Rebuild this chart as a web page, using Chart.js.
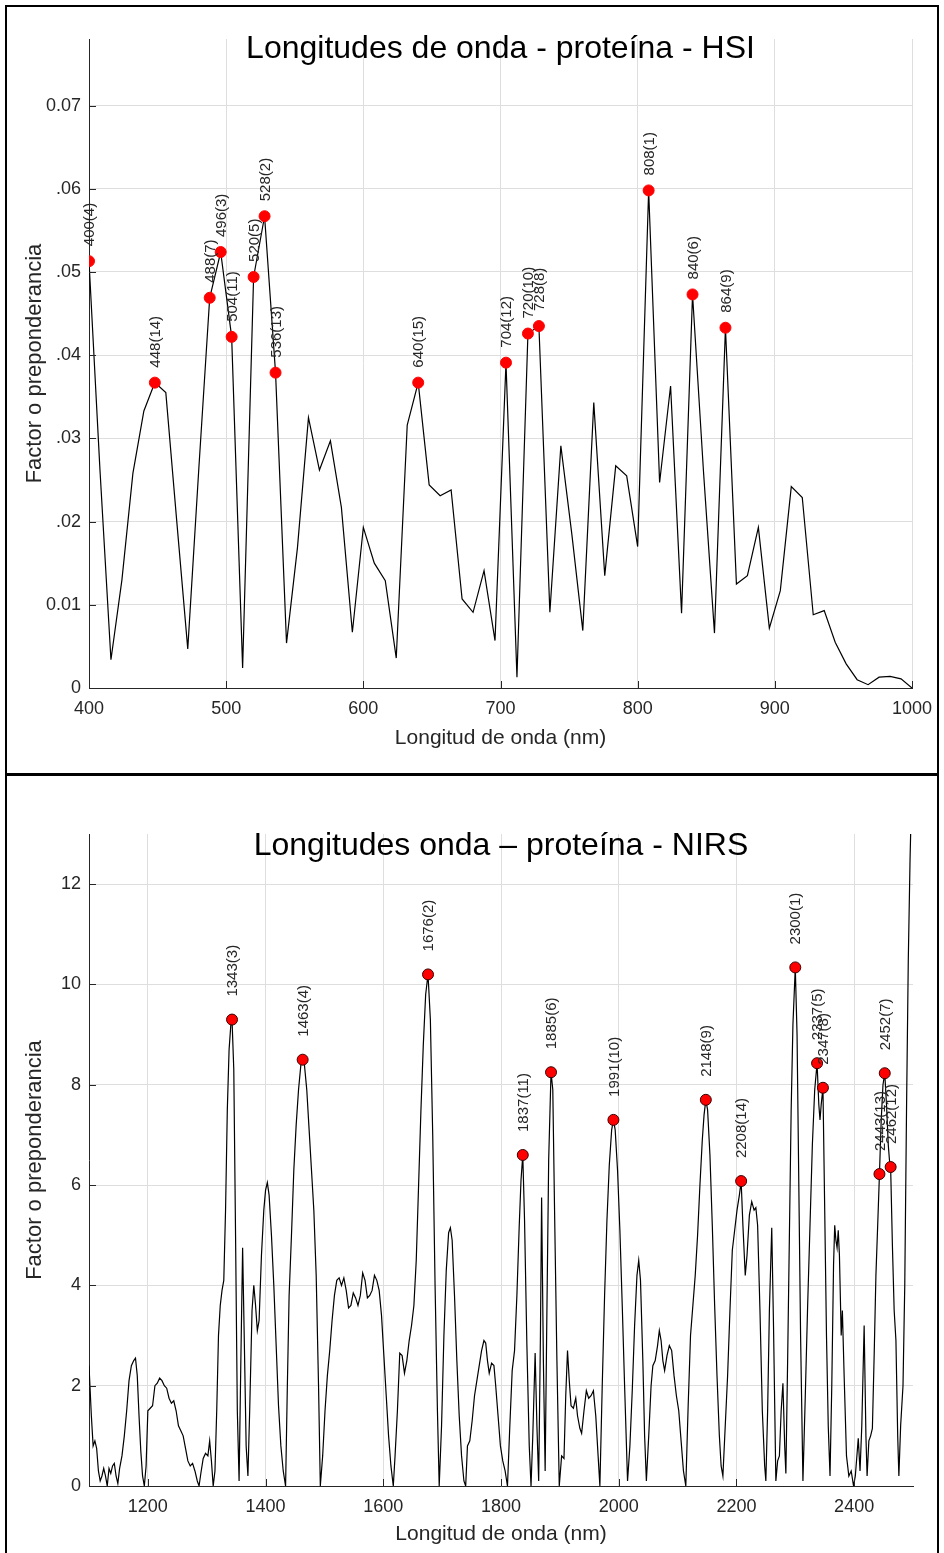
<!DOCTYPE html>
<html>
<head>
<meta charset="utf-8">
<script src="https://cdn.jsdelivr.net/npm/chart.js@4.4.1/dist/chart.umd.min.js"></script>
<style>
  body { margin: 0; background: #fff; }
  .panel { position: absolute; left: 5px; width: 934px; border: 2px solid #000; box-sizing: border-box; }
  #p1 { top: 5px; height: 771px; }
  #p2 { top: 773px; height: 800px; }
  canvas { position: absolute; }
  #hsiChart { left: 7px; top: 7px; }
  #nirsChart { left: 7px; top: 776px; }
</style>
</head>
<body>
<div class="panel" id="p1"></div>
<div class="panel" id="p2"></div>
<canvas id="hsiChart" width="930" height="767"></canvas>
<canvas id="nirsChart" width="930" height="777"></canvas>
<script>
// HSI spectrum (8 nm steps)
const hsiWl = [400, 408, 416, 424, 432, 440, 448, 456, 464, 472, 480, 488, 496, 504, 512, 520, 528, 536, 544, 552,
  560, 568, 576, 584, 592, 600, 608, 616, 624, 632, 640, 648, 656, 664, 672, 680, 688, 696, 704, 712,
  720, 728, 736, 744, 752, 760, 768, 776, 784, 792, 800, 808, 816, 824, 832, 840, 848, 856, 864, 872,
  880, 888, 896, 904, 912, 920, 928, 936, 944, 952, 960, 968, 976, 984, 992, 1000];
const hsiVal = [0.0513, 0.0262, 0.0034, 0.0130, 0.0258, 0.0333, 0.0367, 0.0355, 0.0200, 0.0047,
  0.0262, 0.0469, 0.0524, 0.0422, 0.0024, 0.0494, 0.0567, 0.0379, 0.0054, 0.0169,
  0.0325, 0.0262, 0.0297, 0.0217, 0.0067, 0.0193, 0.0150, 0.0129, 0.0036, 0.0316,
  0.0367, 0.0244, 0.0231, 0.0238, 0.0107, 0.0091, 0.0141, 0.0057, 0.0391, 0.0013,
  0.0426, 0.0435, 0.0091, 0.0291, 0.0185, 0.0069, 0.0343, 0.0135, 0.0267, 0.0255,
  0.0170, 0.0598, 0.0247, 0.0363, 0.0090, 0.0473, 0.0260, 0.0066, 0.0433, 0.0125,
  0.0135, 0.0193, 0.0072, 0.0117, 0.0242, 0.0229, 0.0088, 0.0093, 0.0055, 0.0029,
  0.0010, 0.0004, 0.0013, 0.0014, 0.0011, 0.0000];
const hsiPeakWl = [400, 448, 488, 496, 504, 520, 528, 536, 640, 704, 720, 728, 808, 840, 864];
const hsiPeakRank = [4, 14, 7, 3, 11, 5, 2, 13, 15, 12, 10, 8, 1, 6, 9];
const hsiXTicks = [400, 500, 600, 700, 800, 900, 1000];
const hsiXLabels = ['400', '500', '600', '700', '800', '900', '1000'];
const hsiYTicks = [0, 0.01, 0.02, 0.03, 0.04, 0.05, 0.06, 0.07];
const hsiYLabels = ['0', '0.01', '.02', '.03', '.04', '.05', '.06', '0.07'];

// NIRS spectrum
const nirsWl = [1100, 1104, 1107, 1110, 1113, 1116, 1119, 1122, 1125, 1128, 1131, 1134, 1137, 1140, 1143, 1146, 1149, 1152, 1156, 1160,
  1164, 1168, 1172, 1176, 1179, 1182, 1185, 1188, 1191, 1194, 1197, 1200, 1204, 1208, 1212, 1216, 1220, 1224, 1228, 1232,
  1236, 1240, 1244, 1248, 1252, 1256, 1260, 1264, 1268, 1272, 1276, 1280, 1284, 1287, 1290, 1294, 1298, 1302, 1305, 1308,
  1311, 1314, 1317, 1320, 1323, 1326, 1329, 1332, 1335, 1338, 1341, 1343, 1346, 1349, 1352, 1355, 1358, 1361, 1364, 1367,
  1370, 1373, 1377, 1380, 1383, 1386, 1389, 1393, 1397, 1400, 1403, 1406, 1410, 1414, 1418, 1422, 1426, 1430, 1434, 1437,
  1440, 1444, 1448, 1452, 1456, 1460, 1463, 1466, 1470, 1474, 1478, 1482, 1486, 1490, 1493, 1497, 1501, 1505, 1509, 1513,
  1517, 1521, 1525, 1529, 1533, 1537, 1541, 1545, 1549, 1553, 1557, 1561, 1565, 1569, 1573, 1577, 1581, 1585, 1589, 1593,
  1597, 1601, 1605, 1609, 1613, 1617, 1620, 1624, 1628, 1632, 1636, 1640, 1644, 1648, 1652, 1656, 1660, 1664, 1668, 1672,
  1676, 1680, 1684, 1688, 1692, 1695, 1699, 1703, 1707, 1711, 1714, 1717, 1721, 1725, 1729, 1733, 1737, 1740, 1743, 1747,
  1751, 1755, 1759, 1763, 1767, 1771, 1774, 1777, 1780, 1784, 1788, 1791, 1795, 1799, 1803, 1807, 1811, 1815, 1819, 1823,
  1827, 1831, 1834, 1837, 1840, 1844, 1848, 1851, 1854, 1858, 1861, 1864, 1867, 1869, 1872, 1875, 1878, 1881, 1885, 1888,
  1891, 1895, 1899, 1903, 1907, 1910, 1913, 1916, 1919, 1923, 1927, 1930, 1934, 1937, 1941, 1945, 1949, 1953, 1957, 1961,
  1965, 1968, 1972, 1976, 1980, 1984, 1988, 1991, 1994, 1998, 2002, 2006, 2010, 2015, 2019, 2023, 2027, 2031, 2034, 2037,
  2041, 2044, 2047, 2051, 2055, 2058, 2062, 2066, 2069, 2072, 2075, 2078, 2082, 2086, 2090, 2094, 2098, 2102, 2106, 2110,
  2114, 2118, 2122, 2126, 2130, 2134, 2138, 2142, 2145, 2148, 2151, 2155, 2159, 2163, 2167, 2171, 2174, 2177, 2181, 2185,
  2189, 2193, 2197, 2201, 2205, 2208, 2211, 2215, 2218, 2222, 2226, 2230, 2233, 2236, 2240, 2244, 2248, 2250, 2253, 2256,
  2260, 2263, 2267, 2270, 2273, 2276, 2279, 2282, 2284, 2287, 2290, 2293, 2296, 2300, 2303, 2306, 2309, 2313, 2317, 2321,
  2325, 2329, 2333, 2337, 2340, 2342, 2344, 2347, 2350, 2353, 2356, 2359, 2362, 2365, 2367, 2369, 2371, 2373, 2375, 2378,
  2380, 2383, 2387, 2391, 2395, 2399, 2402, 2404, 2407, 2410, 2413, 2417, 2420, 2422, 2425, 2428, 2431, 2434, 2437, 2440,
  2443, 2446, 2449, 2452, 2455, 2458, 2460, 2462, 2465, 2468, 2471, 2474, 2476, 2479, 2483, 2486, 2489, 2492, 2495, 2498, 2500];
const nirsVal = [2.4, 1.4, 0.8, 0.9, 0.75, 0.3, 0.1, 0.2, 0.35, 0.2, 0.0, 0.35, 0.25, 0.4, 0.45, 0.2, 0.05, 0.35, 0.6, 1.0,
  1.5, 2.1, 2.4, 2.5, 2.55, 2.2, 1.4, 0.7, 0.2, 0.0, 0.4, 1.5, 1.55, 1.6, 2.0, 2.05, 2.15, 2.1, 2.0, 1.95,
  1.75, 1.65, 1.7, 1.5, 1.2, 1.1, 1.0, 0.75, 0.5, 0.4, 0.45, 0.3, 0.1, 0.0, 0.25, 0.55, 0.65, 0.6, 0.9, 0.5,
  0.0, 0.3, 1.5, 3.0, 3.6, 3.9, 4.1, 5.5, 7.5, 8.7, 9.2, 9.3, 8.3, 5.0, 1.5, 0.1, 2.5, 4.75, 2.8, 0.8,
  0.2, 1.5, 3.5, 4.0, 3.6, 3.1, 3.3, 4.6, 5.5, 5.9, 6.05, 5.8, 5.0, 4.0, 2.8, 1.6, 0.8, 0.3, 0.0, 2.0,
  3.8, 5.0, 6.3, 7.2, 7.9, 8.4, 8.5, 8.4, 7.9, 7.1, 6.3, 5.5, 4.2, 2.0, 0.0, 0.6, 1.5, 2.2, 2.7, 3.3,
  3.8, 4.1, 4.15, 4.0, 4.15, 3.9, 3.55, 3.6, 3.85, 3.75, 3.6, 3.8, 4.25, 4.1, 3.75, 3.8, 3.9, 4.2, 4.1, 3.9,
  3.4, 2.6, 1.8, 1.0, 0.4, 0.0, 0.6, 1.5, 2.65, 2.6, 2.25, 2.5, 2.9, 3.2, 3.6, 4.5, 6.0, 7.5, 8.8, 9.8,
  10.2, 9.3, 7.0, 4.0, 1.5, 0.0, 1.2, 3.0, 4.3, 5.05, 5.15, 4.9, 3.8, 2.5, 1.4, 0.6, 0.1, 0.0, 0.8, 0.9,
  1.3, 1.8, 2.1, 2.4, 2.7, 2.9, 2.85, 2.5, 2.25, 2.45, 2.4, 2.0, 1.4, 0.8, 0.5, 0.3, 0.0, 1.2, 2.3, 2.7,
  3.8, 5.2, 6.1, 6.6, 5.3, 2.8, 0.8, 0.0, 1.0, 2.65, 1.2, 0.1, 3.0, 5.75, 2.5, 0.3, 3.5, 6.5, 8.25, 7.9,
  5.5, 2.5, 0.0, 0.6, 0.55, 1.8, 2.7, 2.1, 1.6, 1.55, 1.75, 1.4, 1.15, 1.05, 1.5, 1.9, 1.75, 1.8, 1.9, 1.4,
  0.6, 0.0, 2.0, 3.8, 5.3, 6.4, 7.1, 7.3, 7.1, 6.3, 5.1, 3.6, 2.0, 0.1, 0.8, 1.9, 3.2, 4.2, 4.5, 4.1,
  2.5, 1.0, 0.1, 1.0, 2.0, 2.4, 2.5, 2.8, 3.1, 2.9, 2.5, 2.3, 2.6, 2.8, 2.7, 2.2, 1.8, 1.5, 0.9, 0.3,
  0.0, 1.6, 3.0, 3.6, 4.2, 5.0, 6.0, 6.9, 7.4, 7.7, 7.5, 6.6, 5.2, 3.6, 2.2, 1.0, 0.4, 0.2, 1.2, 2.2,
  3.5, 4.7, 5.1, 5.5, 5.8, 6.08, 5.2, 4.2, 4.6, 5.4, 5.67, 5.5, 5.55, 5.2, 3.5, 1.5, 0.4, 0.1, 1.5, 3.5,
  5.15, 3.2, 0.1, 0.5, 0.6, 1.5, 2.05, 0.8, 0.25, 2.5, 5.0, 7.5, 9.2, 10.34, 9.0, 6.0, 3.0, 0.1, 1.8, 3.6,
  5.2, 6.8, 7.9, 8.43, 7.6, 7.3, 7.6, 7.94, 5.5, 3.0, 1.2, 0.2, 2.0, 4.4, 5.2, 4.9, 4.75, 5.1, 4.6, 3.0,
  3.5, 2.2, 0.6, 0.2, 0.3, 0.0, 0.2, 0.5, 0.95, 0.3, 1.2, 3.2, 1.0, 0.2, 0.9, 1.0, 1.15, 2.6, 4.2, 5.2,
  6.22, 7.3, 8.0, 8.23, 7.6, 6.8, 6.5, 6.36, 4.8, 3.5, 2.9, 1.0, 0.2, 1.2, 2.0, 4.0, 7.5, 10.5, 12.5, 14.0, 15.0];
const nirsPeakWl = [1343, 1463, 1676, 1837, 1885, 1991, 2148, 2208, 2300, 2337, 2347, 2443, 2452, 2462];
const nirsPeakRank = [3, 4, 2, 11, 6, 10, 9, 14, 1, 5, 8, 13, 7, 12];
const nirsXTicks = [1200, 1400, 1600, 1800, 2000, 2200, 2400];
const nirsXLabels = ['1200', '1400', '1600', '1800', '2000', '2200', '2400'];
const nirsYTicks = [0, 2, 4, 6, 8, 10, 12];
const nirsYLabels = ['0', '2', '4', '6', '8', '10', '12'];

const INK = '#262626';
Chart.defaults.font.family = '"Liberation Sans", Arial, sans-serif';
Chart.defaults.color = INK;

// title, peak labels and inward ticks like the matlab figure
const matlabDecor = {
  id: 'matlabDecor',
  afterDatasetsDraw(chart, args, opts) {
    const ctx = chart.ctx;
    const x = chart.scales.x, y = chart.scales.y;
    ctx.save();
    ctx.fillStyle = INK;
    ctx.font = '15px "Liberation Sans", Arial, sans-serif';
    ctx.textAlign = 'left';
    ctx.textBaseline = 'middle';
    opts.peaks.forEach(p => {
      ctx.save();
      ctx.translate(x.getPixelForValue(p.x) + 1, y.getPixelForValue(p.y) - opts.labelGap);
      ctx.rotate(-Math.PI / 2);
      ctx.fillText(p.label, 0, 0);
      ctx.restore();
    });
    ctx.restore();
  },
  afterDraw(chart, args, opts) {
    const ctx = chart.ctx;
    const a = chart.chartArea;
    const x = chart.scales.x, y = chart.scales.y;
    ctx.save();
    ctx.strokeStyle = INK;
    ctx.lineWidth = 1;
    ctx.beginPath();
    x.ticks.forEach(t => {
      const px = Math.round(x.getPixelForValue(t.value)) + 0.5;
      ctx.moveTo(px, a.bottom);
      ctx.lineTo(px, a.bottom - 7);
    });
    y.ticks.forEach(t => {
      const py = Math.round(y.getPixelForValue(t.value)) + 0.5;
      ctx.moveTo(a.left, py);
      ctx.lineTo(a.left + 7, py);
    });
    ctx.stroke();
    ctx.fillStyle = '#000';
    ctx.font = '32px "Liberation Sans", Arial, sans-serif';
    ctx.textAlign = 'center';
    ctx.textBaseline = 'alphabetic';
    ctx.fillText(opts.title, (a.left + a.right) / 2, opts.titleY);
    ctx.restore();
  }
};

function buildChart(id, s) {
  const line = s.wl.map((w, i) => ({ x: w, y: s.val[i] }));
  const peaks = s.peakWl.map((w, i) => ({
    x: w,
    y: s.val[s.wl.indexOf(w)],
    label: w + '(' + s.peakRank[i] + ')'
  }));
  return new Chart(document.getElementById(id).getContext('2d'), {
    type: 'line',
    data: {
      datasets: [{
        data: peaks,
        showLine: false,
        pointRadius: s.dotRadius,
        backgroundColor: '#ff0000',
        borderColor: s.dotEdge,
        borderWidth: 1
      }, {
        data: line,
        borderColor: '#000',
        borderWidth: 1.2,
        pointRadius: 0,
        tension: 0
      }]
    },
    options: {
      responsive: false,
      animation: false,
      devicePixelRatio: 1,
      layout: { padding: { top: s.padTop, right: s.padRight, left: 0, bottom: 0 } },
      plugins: {
        legend: { display: false },
        tooltip: { enabled: false },
        matlabDecor: { title: s.title, titleY: s.titleY, peaks: peaks, labelGap: s.labelGap }
      },
      scales: {
        x: {
          type: 'linear',
          min: s.xMin,
          max: s.xMax,
          afterBuildTicks: sc => { sc.ticks = s.xTicks.map(v => ({ value: v })); },
          afterFit: sc => {
            sc.height = s.xAxisH;
            sc.paddingLeft = 0;
            sc.paddingRight = 0;
          },
          grid: { color: '#dedede', drawTicks: false },
          border: { color: INK },
          ticks: { padding: 10, maxRotation: 0, autoSkip: false, font: { size: 18 }, callback: (v, i) => s.xLabels[i] },
          title: { display: true, text: 'Longitud de onda (nm)', font: { size: 21 }, padding: { top: 0, bottom: s.xTitlePad } }
        },
        y: {
          min: 0,
          max: s.yMax,
          afterBuildTicks: sc => { sc.ticks = s.yTicks.map(v => ({ value: v })); },
          afterFit: sc => { sc.width = 82; },
          grid: { color: '#dedede', drawTicks: false },
          border: { color: INK },
          ticks: { padding: 8, autoSkip: false, font: { size: 18 }, callback: (v, i) => s.yLabels[i] },
          title: { display: true, text: 'Factor o preponderancia', font: { size: 22 }, padding: { top: 15, bottom: 0 } }
        }
      }
    },
    plugins: [matlabDecor]
  });
}

document.addEventListener('DOMContentLoaded', function() {
  buildChart('hsiChart', {
    wl: hsiWl, val: hsiVal, peakWl: hsiPeakWl, peakRank: hsiPeakRank,
    xTicks: hsiXTicks, xLabels: hsiXLabels, yTicks: hsiYTicks, yLabels: hsiYLabels,
    xMin: 400, xMax: 1000, yMax: 0.078,
    title: 'Longitudes de onda - proteína - HSI', titleY: 51,
    padTop: 32, padRight: 25, xAxisH: 86, xTitlePad: 23,
    labelGap: 15, dotRadius: 5.5, dotEdge: '#ff0000'
  });
  buildChart('nirsChart', {
    wl: nirsWl, val: nirsVal, peakWl: nirsPeakWl, peakRank: nirsPeakRank,
    xTicks: nirsXTicks, xLabels: nirsXLabels, yTicks: nirsYTicks, yLabels: nirsYLabels,
    xMin: 1100, xMax: 2500, yMax: 13,
    title: 'Longitudes onda \u2013 proteína - NIRS', titleY: 79,
    padTop: 58, padRight: 24, xAxisH: 67, xTitlePad: 6,
    labelGap: 23, dotRadius: 5.5, dotEdge: '#3a0000'
  });
});
</script>
</body>
</html>
